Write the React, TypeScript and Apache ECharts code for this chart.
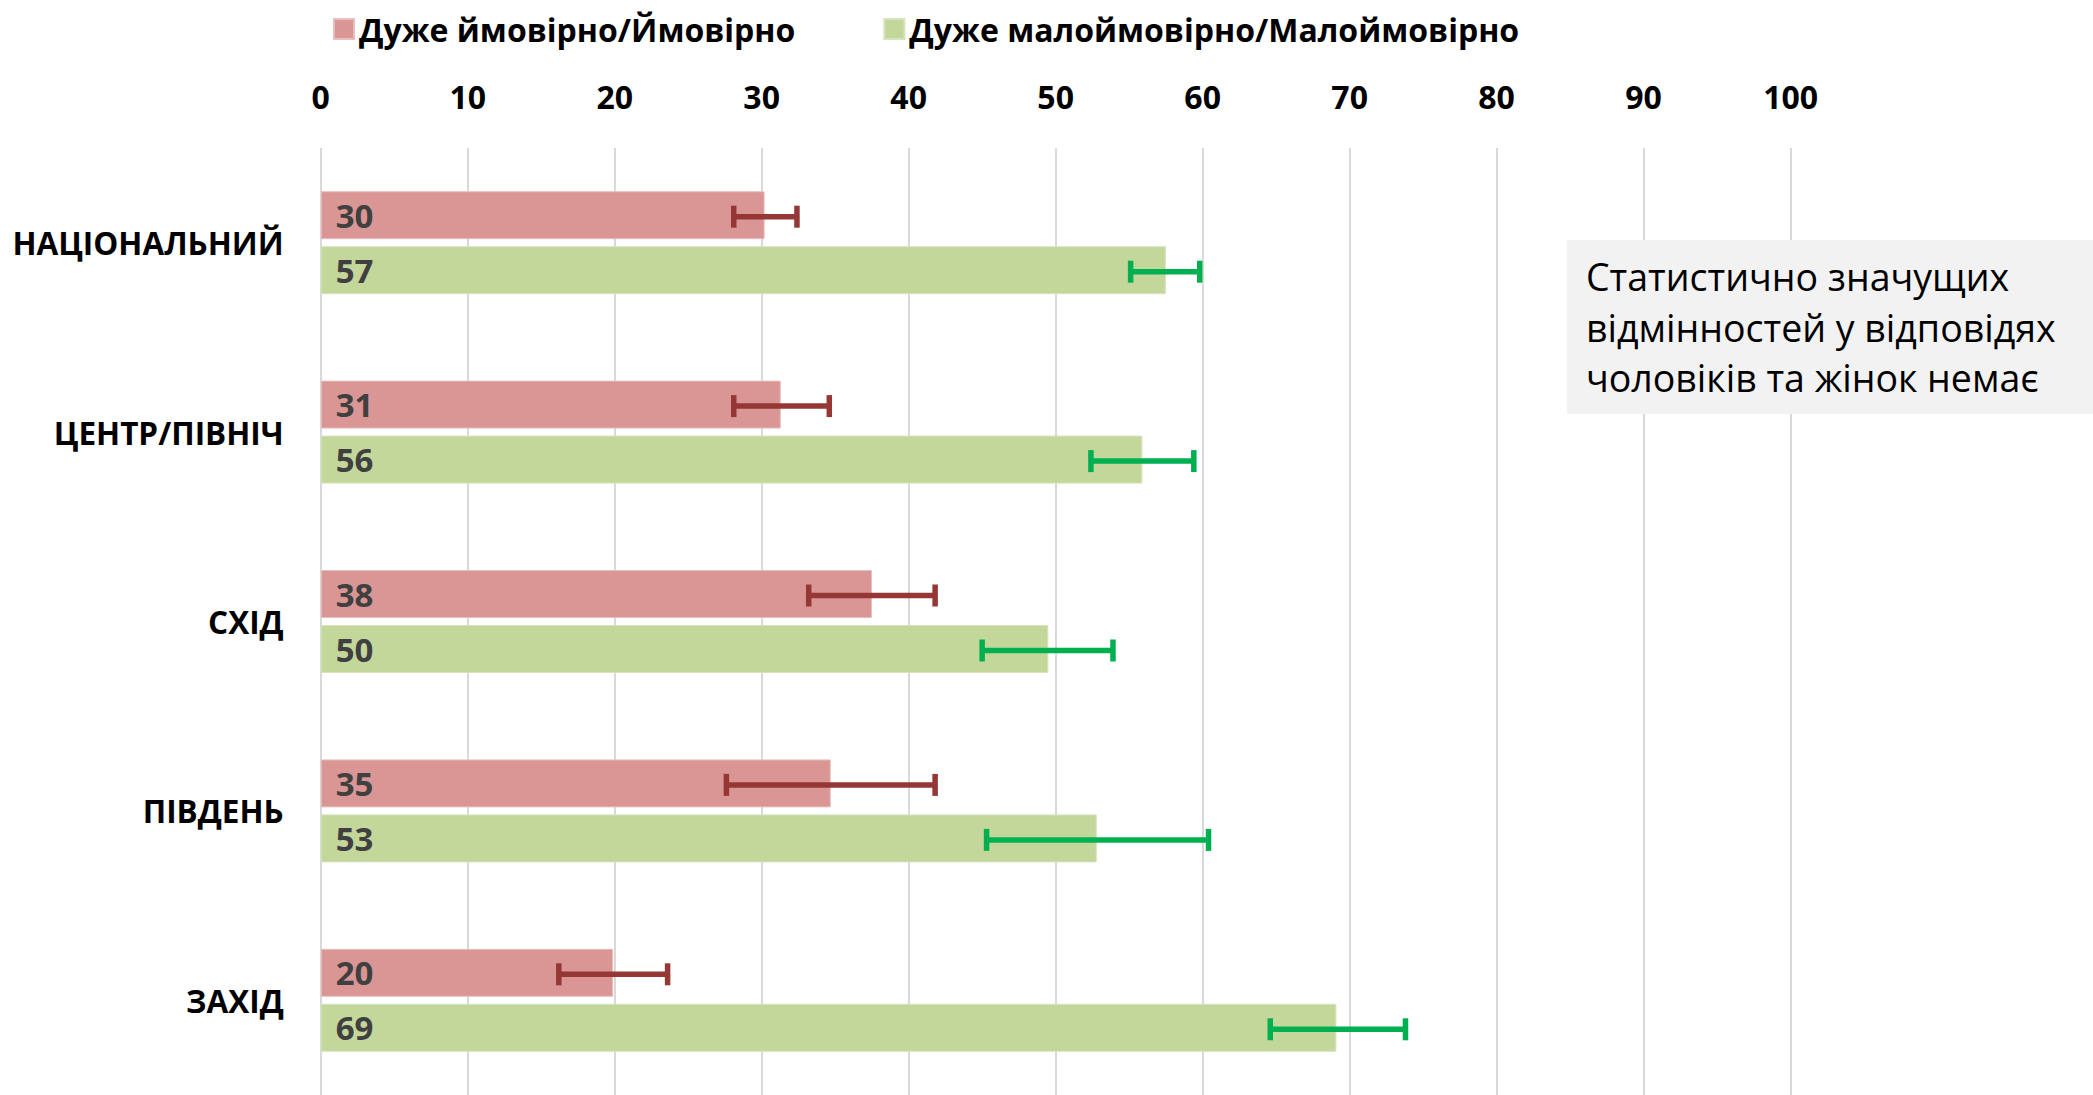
import React, { useEffect, useRef } from "react";
import * as echarts from "echarts";

const categories = ["НАЦІОНАЛЬНИЙ", "ЦЕНТР/ПІВНІЧ", "СХІД", "ПІВДЕНЬ", "ЗАХІД"];
const seriesNames = ["Дуже ймовірно/Ймовірно", "Дуже малоймовірно/Малоймовірно"];

const likely = [30.2, 31.3, 37.5, 34.7, 19.9];
const likelyLabels = [30, 31, 38, 35, 20];
const likelyLow = [28.1, 28.1, 33.2, 27.6, 16.2];
const likelyHigh = [32.4, 34.6, 41.8, 41.8, 23.6];

const unlikely = [57.5, 55.9, 49.5, 52.8, 69.1];
const unlikelyLabels = [57, 56, 50, 53, 69];
const unlikelyLow = [55.1, 52.4, 45.0, 45.3, 64.6];
const unlikelyHigh = [59.8, 59.4, 53.9, 60.4, 73.8];

const noteLines = [
  "Статистично значущих",
  "відмінностей у відповідях",
  "чоловіків та жінок немає",
];

const FONT = "'Open Sans', 'Noto Sans', sans-serif";
const BAR_W = 48;
const BAR_GAP = 7;

function errorSeries(low: number[], high: number[], color: string, offset: number) {
  return {
    type: "custom",
    name: "err",
    z: 5,
    silent: true,
    encode: { x: [1, 2], y: 0 },
    data: low.map((l, i) => [i, l, high[i]]),
    renderItem: (_params: any, api: any) => {
      const idx = api.value(0);
      const p1 = api.coord([api.value(1), idx]);
      const p2 = api.coord([api.value(2), idx]);
      const y = p1[1] + offset;
      const cap = 11;
      const st = { stroke: color, lineWidth: 5.5 };
      return {
        type: "group",
        children: [
          { type: "line", shape: { x1: p1[0], y1: y, x2: p2[0], y2: y }, style: st },
          { type: "line", shape: { x1: p1[0], y1: y - cap, x2: p1[0], y2: y + cap }, style: st },
          { type: "line", shape: { x1: p2[0], y1: y - cap, x2: p2[0], y2: y + cap }, style: st },
        ],
      };
    },
  };
}

export default function App() {
  const ref = useRef<HTMLDivElement>(null);
  useEffect(() => {
    if (!ref.current) return;
    const chart = echarts.init(ref.current, null, { renderer: "svg" });
    const labelStyle = (arr: number[]) => ({
      show: true,
      position: "insideLeft",
      distance: 15,
      formatter: (p: any) => String(arr[p.dataIndex]),
      fontFamily: FONT,
      fontWeight: "bold",
      fontSize: 33,
      color: "#404040",
    });
    chart.setOption({
      animation: false,
      backgroundColor: "#ffffff",
      legend: {
        data: seriesNames,
        left: 328,
        top: 8,
        icon: "rect",
        itemWidth: 20,
        itemHeight: 20,
        itemGap: 88,
        textStyle: { fontFamily: FONT, fontWeight: "bold", fontSize: 32, color: "#000" },
      },
      grid: { left: 320.7, right: 302.4, top: 148, bottom: 0, containLabel: false },
      xAxis: {
        type: "value",
        position: "top",
        min: 0,
        max: 100,
        interval: 10,
        axisLine: { show: false },
        axisTick: { show: false },
        splitLine: { show: true, lineStyle: { color: "#d9d9d9", width: 2 } },
        axisLabel: {
          margin: 36,
          fontFamily: FONT,
          fontWeight: "bold",
          fontSize: 32,
          color: "#000",
        },
      },
      yAxis: {
        type: "category",
        inverse: true,
        data: categories,
        axisLine: { show: false },
        axisTick: { show: false },
        axisLabel: {
          margin: 37,
          fontFamily: FONT,
          fontWeight: "bold",
          fontSize: 31.5,
          color: "#000",
        },
      },
      series: [
        {
          type: "bar",
          name: seriesNames[0],
          data: likely,
          barWidth: BAR_W,
          barGap: `${(BAR_GAP / BAR_W) * 100}%`,
          itemStyle: { color: "#D99694", borderColor: "#E8BFBE", borderWidth: 1 },
          label: labelStyle(likelyLabels),
        },
        {
          type: "bar",
          name: seriesNames[1],
          data: unlikely,
          barWidth: BAR_W,
          barGap: `${(BAR_GAP / BAR_W) * 100}%`,
          itemStyle: { color: "#C4D79B", borderColor: "#D6E3BC", borderWidth: 1 },
          label: labelStyle(unlikelyLabels),
        },
        errorSeries(likelyLow, likelyHigh, "#953735", -26),
        errorSeries(unlikelyLow, unlikelyHigh, "#00B050", 29),
      ],
      graphic: [
        {
          type: "rect",
          shape: { x: 1567, y: 240, width: 526, height: 174 },
          style: { fill: "#F2F2F2" },
          z: 10,
        },
        {
          type: "text",
          x: 1586,
          y: 327,
          z: 11,
          style: {
            text: noteLines.join("\n"),
            fontFamily: FONT,
            fontSize: 37.5,
            lineHeight: 50.5,
            fill: "#000",
            verticalAlign: "middle",
            align: "left",
          },
        },
      ],
    });
    return () => chart.dispose();
  }, []);
  return (
    <div
      ref={ref}
      style={{ position: "fixed", left: 0, top: 0, width: 2093, height: 1095 }}
    />
  );
}
